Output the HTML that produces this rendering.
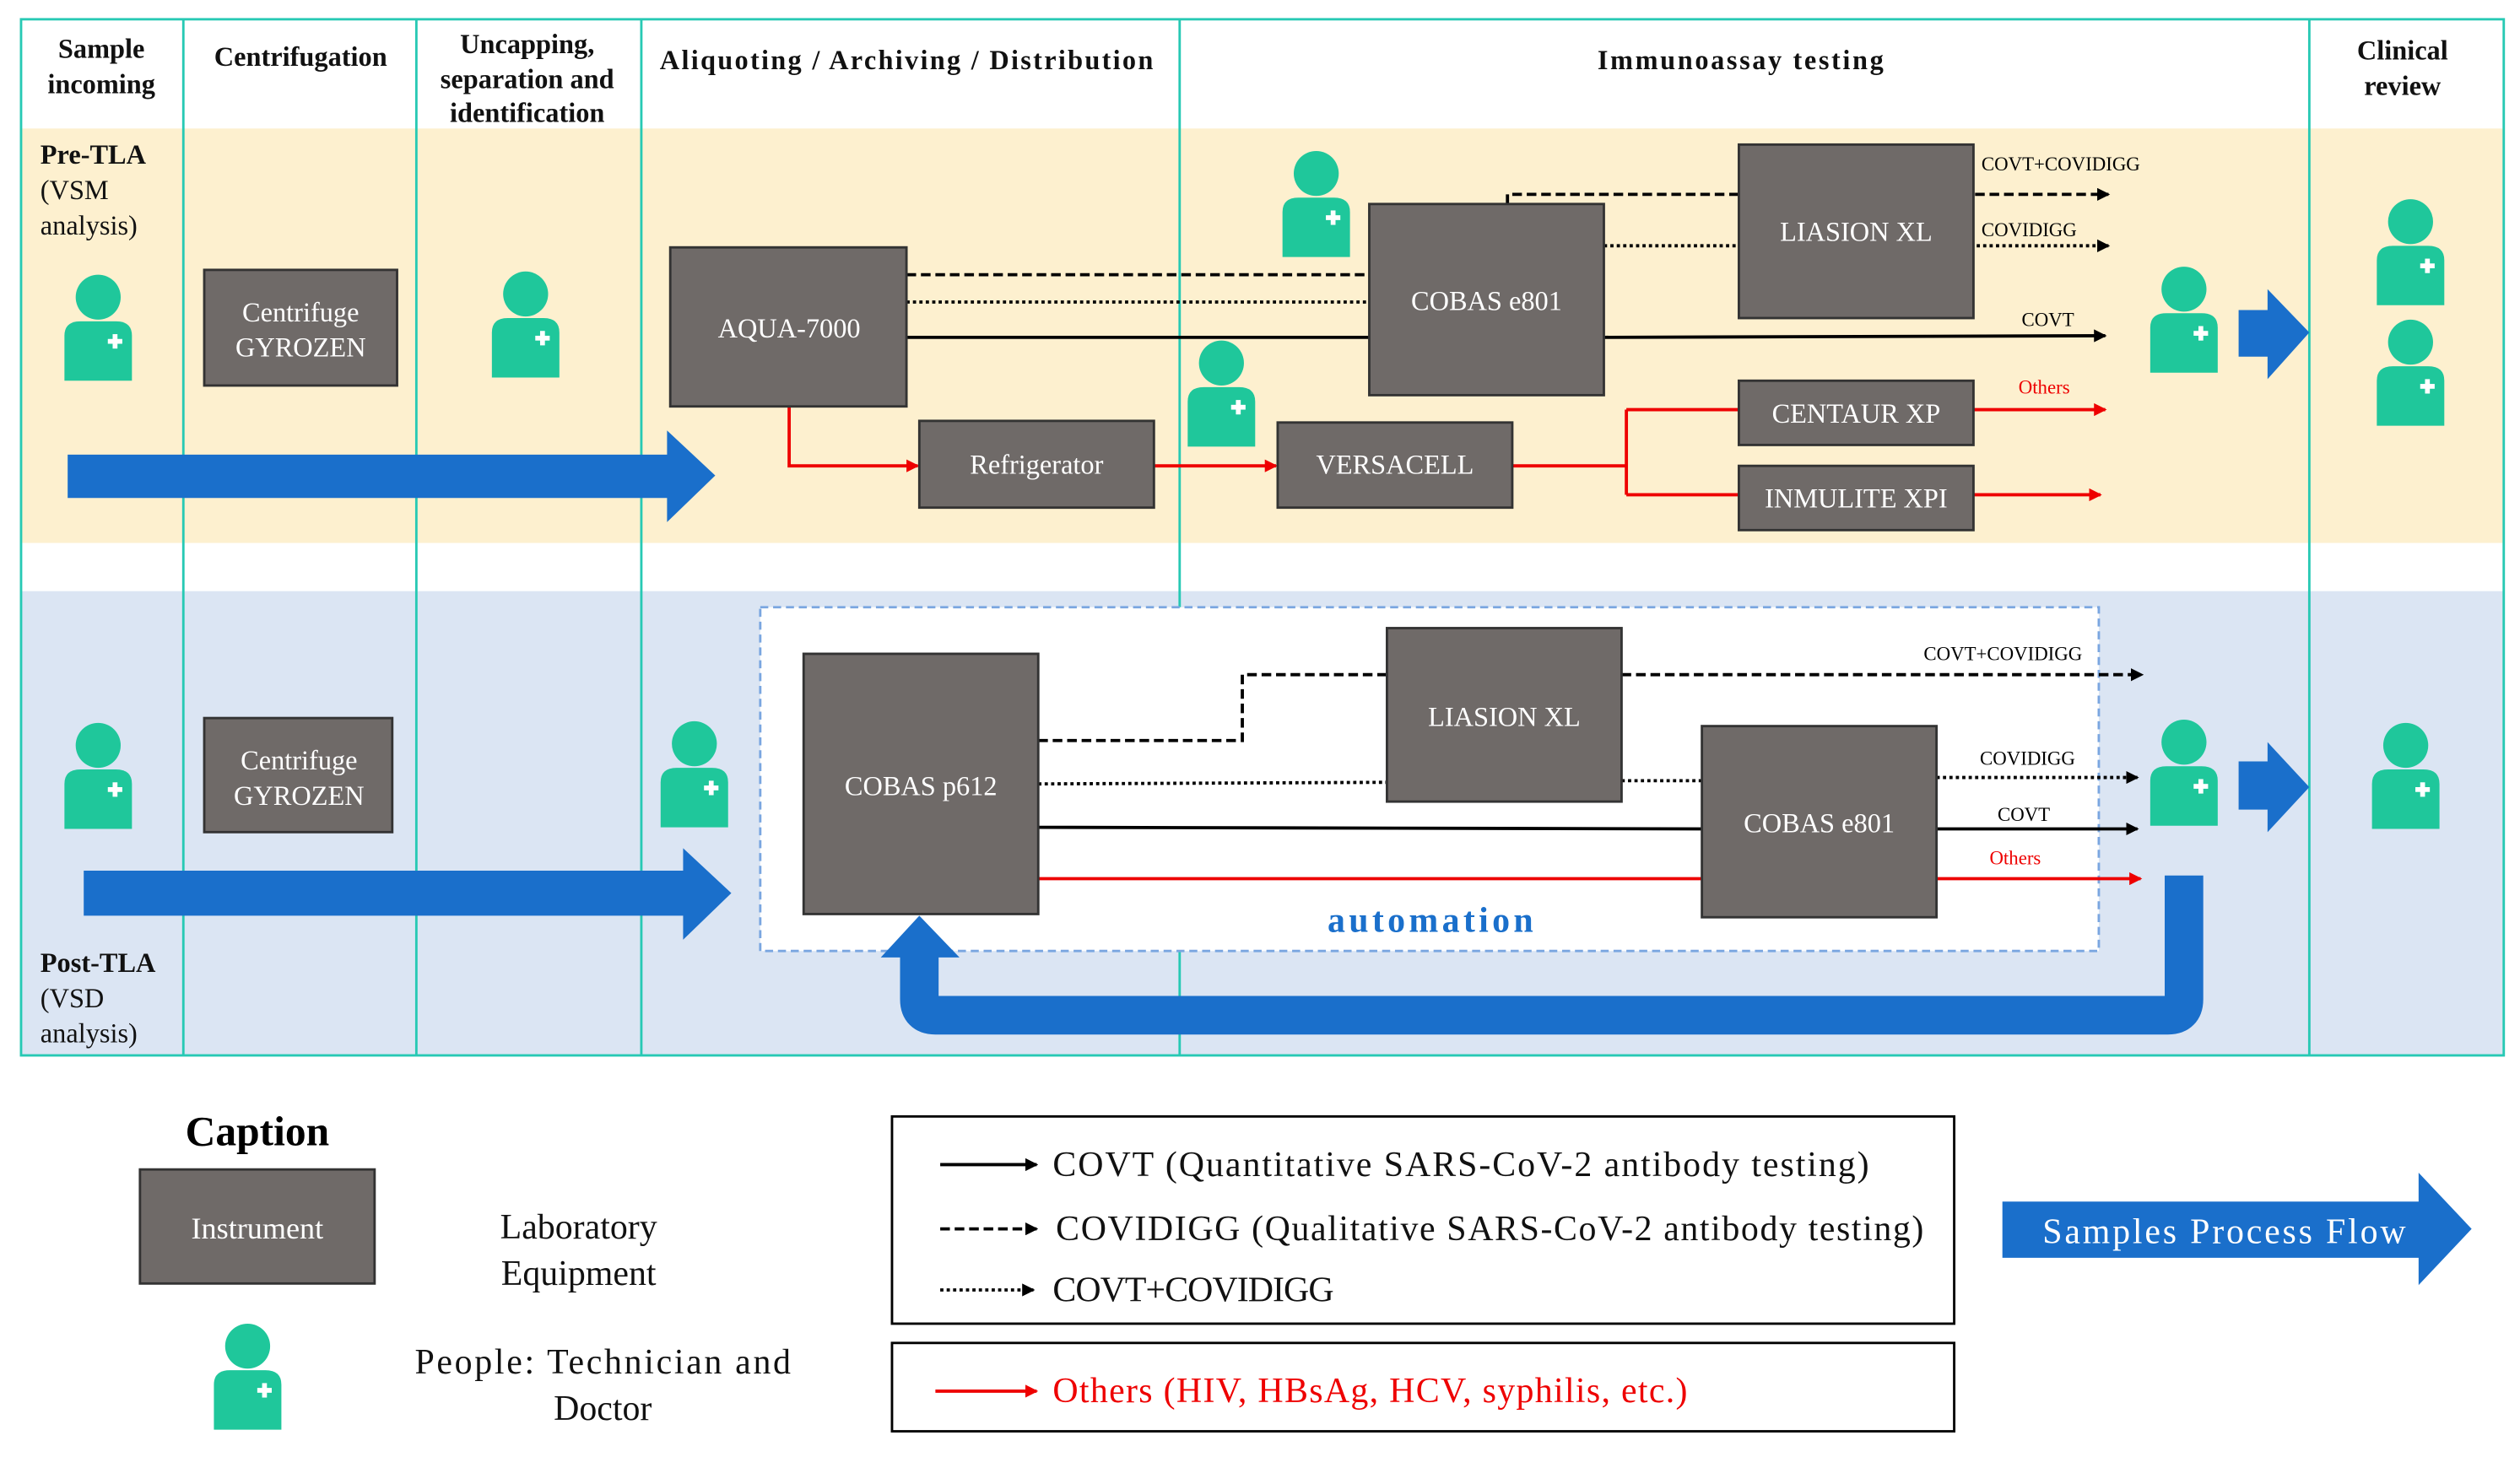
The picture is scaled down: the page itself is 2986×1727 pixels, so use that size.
<!DOCTYPE html>
<html><head><meta charset="utf-8"><style>html,body{margin:0;padding:0;background:#fff}svg{display:block}</style></head>
<body>
<svg width="2986" height="1727" viewBox="0 0 1568 907" xmlns="http://www.w3.org/2000/svg" font-family="Liberation Serif, serif">
<defs>
<g id="p">
<circle cx="0" cy="-20" r="14" fill="#1fc79b"/>
<path d="M-21 32 V4 Q-21 -5 -11 -5 H11 Q21 -5 21 4 V32 Z" fill="#1fc79b"/>
<rect x="6" y="6" width="9" height="3" fill="#fff"/><rect x="9" y="3" width="3" height="9" fill="#fff"/>
</g>
<marker id="ak" markerWidth="8" markerHeight="8" refX="7" refY="4" orient="auto" markerUnits="userSpaceOnUse"><path d="M0 0 L8 4 L0 8 Z" fill="#000"/></marker>
<marker id="ar" markerWidth="8" markerHeight="8" refX="7" refY="4" orient="auto" markerUnits="userSpaceOnUse"><path d="M0 0 L8 4 L0 8 Z" fill="#e00"/></marker>
</defs>
<rect x="13" y="80" width="1545" height="258" fill="#fdf0cf"/>
<rect x="13" y="368" width="1545" height="289" fill="#dbe5f3"/>
<rect x="13" y="12" width="1545" height="645" fill="none" stroke="#27c9b4" stroke-width="1.5"/>
<g stroke="#27c9b4" stroke-width="1.5">
<line x1="114" y1="12" x2="114" y2="657"/><line x1="259" y1="12" x2="259" y2="657"/>
<line x1="399" y1="12" x2="399" y2="657"/><line x1="734" y1="12" x2="734" y2="657"/>
<line x1="1437" y1="12" x2="1437" y2="657"/>
</g>
<g font-weight="bold" font-size="17" text-anchor="middle" fill="#111">
<text x="63" y="36">Sample</text><text x="63" y="58">incoming</text>
<text x="187" y="41">Centrifugation</text>
<text x="328" y="33">Uncapping,</text><text x="328" y="55">separation and</text><text x="328" y="76">identification</text>
<text x="564" y="43" textLength="307">Aliquoting / Archiving  / Distribution</text>
<text x="1083" y="43" textLength="178">Immunoassay testing</text>
<text x="1495" y="37">Clinical</text><text x="1495" y="59">review</text>
</g>
<g font-size="17" fill="#111">
<text x="25" y="102" font-weight="bold">Pre-TLA</text><text x="25" y="124">(VSM</text><text x="25" y="146">analysis)</text>
<text x="25" y="605" font-weight="bold">Post-TLA</text><text x="25" y="627">(VSD</text><text x="25" y="649">analysis)</text>
</g>
<g fill="none" stroke-width="2">
<line x1="564" y1="171" x2="852" y2="171" stroke="#000" stroke-dasharray="6,3"/>
<line x1="564" y1="188" x2="852" y2="188" stroke="#000" stroke-dasharray="2,2"/>
<line x1="564" y1="210" x2="852" y2="210" stroke="#000"/>
<path d="M938 127 V121 H1312" stroke="#000" stroke-dasharray="6,3" marker-end="url(#ak)"/>
<line x1="998" y1="153" x2="1312" y2="153" stroke="#000" stroke-dasharray="2,2" marker-end="url(#ak)"/>
<line x1="998" y1="210" x2="1310" y2="209" stroke="#000" marker-end="url(#ak)"/>
<path d="M491 253 V290 H571" stroke="#e00" marker-end="url(#ar)"/>
<line x1="718" y1="290" x2="794" y2="290" stroke="#e00" marker-end="url(#ar)"/>
<path d="M941 290 H1012 M1012 255 V308 M1012 255 H1082 M1012 308 H1082" stroke="#e00"/>
<line x1="1228" y1="255" x2="1310" y2="255" stroke="#e00" marker-end="url(#ar)"/>
<line x1="1228" y1="308" x2="1307" y2="308" stroke="#e00" marker-end="url(#ar)"/>
</g>
<g font-size="12" fill="#000"><text x="1233" y="106">COVT+COVIDIGG</text><text x="1233" y="147">COVIDIGG</text><text x="1258" y="203">COVT</text><text x="1256" y="245" fill="#e00">Others</text></g>
<g fill="#6f6a68" stroke="#333" stroke-width="1.5">
<rect x="127" y="168" width="120" height="72"/><rect x="417" y="154" width="147" height="99"/>
<rect x="572" y="262" width="146" height="54"/><rect x="795" y="263" width="146" height="53"/>
<rect x="852" y="127" width="146" height="119"/><rect x="1082" y="90" width="146" height="108"/>
<rect x="1082" y="237" width="146" height="40"/><rect x="1082" y="290" width="146" height="40"/>
</g>
<g font-size="17" fill="#fff" text-anchor="middle">
<text x="187" y="200">Centrifuge</text><text x="187" y="222">GYROZEN</text>
<text x="491" y="210">AQUA-7000</text><text x="645" y="295">Refrigerator</text>
<text x="868" y="295">VERSACELL</text><text x="925" y="193">COBAS e801</text>
<text x="1155" y="150">LIASION XL</text><text x="1155" y="263">CENTAUR XP</text><text x="1155" y="316">INMULITE XPI</text>
</g>
<g fill="#1a6fcb">
<path d="M42 283 H415 V268 L445 296 L415 325 V310 H42 Z"/>
<path d="M1393 193 H1411 V180 L1437 207 L1411 236 V222 H1393 Z"/>
<path d="M1393 474 H1411 V462 L1437 490 L1411 518 V504 H1393 Z"/>
<path d="M52 542 H425 V528 L455 556 L425 585 V570 H52 Z"/>
</g>
<rect x="473" y="378" width="833" height="214" fill="#fff" stroke="#7aa6e0" stroke-width="1.5" stroke-dasharray="5,3"/>
<g fill="none" stroke-width="2">
<path d="M646 461 H773 V420 H863" stroke="#000" stroke-dasharray="6,3"/>
<line x1="1009" y1="420" x2="1333" y2="420" stroke="#000" stroke-dasharray="6,3" marker-end="url(#ak)"/>
<line x1="646" y1="488" x2="863" y2="487" stroke="#000" stroke-dasharray="2,2"/>
<line x1="1009" y1="486" x2="1059" y2="486" stroke="#000" stroke-dasharray="2,2"/>
<line x1="1205" y1="484" x2="1330" y2="484" stroke="#000" stroke-dasharray="2,2" marker-end="url(#ak)"/>
<line x1="646" y1="515" x2="1059" y2="516" stroke="#000"/>
<line x1="1205" y1="516" x2="1330" y2="516" stroke="#000" marker-end="url(#ak)"/>
<line x1="646" y1="547" x2="1059" y2="547" stroke="#e00"/>
<line x1="1205" y1="547" x2="1332" y2="547" stroke="#e00" marker-end="url(#ar)"/>
</g>
<g font-size="12"><text x="1197" y="411">COVT+COVIDIGG</text><text x="1232" y="476">COVIDIGG</text><text x="1243" y="511">COVT</text><text x="1238" y="538" fill="#e00">Others</text></g>
<path d="M1359 545 V622 Q1359 632 1349 632 H582 Q572 632 572 622 V592" fill="none" stroke="#1a6fcb" stroke-width="24"/>
<path d="M548 596 L572 570 L597 596 Z" fill="#1a6fcb"/>
<g fill="#6f6a68" stroke="#333" stroke-width="1.5">
<rect x="127" y="447" width="117" height="71"/><rect x="500" y="407" width="146" height="162"/>
<rect x="863" y="391" width="146" height="108"/><rect x="1059" y="452" width="146" height="119"/>
</g>
<g font-size="17" fill="#fff" text-anchor="middle">
<text x="186" y="479">Centrifuge</text><text x="186" y="501">GYROZEN</text>
<text x="573" y="495">COBAS p612</text><text x="936" y="452">LIASION XL</text><text x="1132" y="518">COBAS e801</text>
</g>
<text x="890" y="580" font-size="22" font-weight="bold" fill="#1a6fcb" text-anchor="middle" textLength="128">automation</text>
<use href="#p" x="61" y="205"/><use href="#p" x="327" y="203"/><use href="#p" x="819" y="128"/>
<use href="#p" x="760" y="246"/><use href="#p" x="1359" y="200"/><use href="#p" x="1500" y="158"/><use href="#p" x="1500" y="233"/>
<use href="#p" x="61" y="484"/><use href="#p" x="432" y="483"/><use href="#p" x="1359" y="482"/><use href="#p" x="1497" y="484"/>
<use href="#p" x="154" y="858"/>
<text x="160" y="713" font-size="26" font-weight="bold" text-anchor="middle">Caption</text>
<rect x="87" y="728" width="146" height="71" fill="#6f6a68" stroke="#333" stroke-width="1.5"/>
<text x="160" y="771" font-size="19" fill="#fff" text-anchor="middle">Instrument</text>
<g font-size="22" text-anchor="middle" fill="#111">
<text x="360" y="771">Laboratory</text><text x="360" y="800">Equipment</text>
<text x="375" y="855" textLength="234">People: Technician and</text><text x="375" y="884">Doctor</text>
</g>
<rect x="555" y="695" width="661" height="129" fill="none" stroke="#000" stroke-width="1.5"/>
<rect x="555" y="836" width="661" height="55" fill="none" stroke="#000" stroke-width="1.5"/>
<g stroke-width="2" fill="none">
<line x1="585" y1="725" x2="645" y2="725" stroke="#000" marker-end="url(#ak)"/>
<line x1="585" y1="765" x2="645" y2="765" stroke="#000" stroke-dasharray="6,3" marker-end="url(#ak)"/>
<line x1="585" y1="803" x2="643" y2="803" stroke="#000" stroke-dasharray="2,2" marker-end="url(#ak)"/>
<line x1="582" y1="866" x2="645" y2="866" stroke="#e00" marker-end="url(#ar)"/>
</g>
<g font-size="22" fill="#111">
<text x="655" y="732" textLength="508">COVT (Quantitative SARS-CoV-2 antibody testing)</text>
<text x="657" y="772" textLength="540">COVIDIGG (Qualitative SARS-CoV-2 antibody testing)</text>
<text x="655" y="810" textLength="175">COVT+COVIDIGG</text>
<text x="655" y="873" fill="#e00" textLength="395">Others (HIV, HBsAg, HCV, syphilis, etc.)</text>
</g>
<path d="M1246 748 H1505 V730 L1538 765 L1505 800 V783 H1246 Z" fill="#1a6fcb"/>
<text x="1384" y="774" font-size="22" fill="#fff" text-anchor="middle" textLength="226">Samples Process Flow</text>
</svg>
</body></html>
